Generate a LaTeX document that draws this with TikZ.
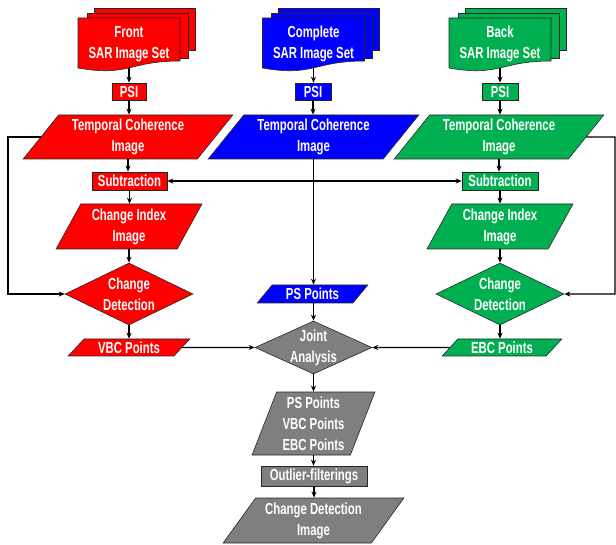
\documentclass[tikz,border=0pt]{standalone}
\usepackage{fontspec}
\setmainfont{Liberation Sans}[FakeStretch=0.71]
\usetikzlibrary{shapes.geometric,arrows.meta}
\definecolor{cred}{HTML}{FF0000}
\definecolor{cblue}{HTML}{0000FF}
\definecolor{cgreen}{HTML}{00B050}
\definecolor{cgray}{HTML}{7F7F7F}
\definecolor{outl}{HTML}{262626}
\newcommand{\docstack}[4]{%
  \begin{scope}[shift={(#1,0)}]
    \filldraw[sheet,fill=#2] (-35,8) rectangle (66,50);
    \filldraw[sheet,fill=#2] (-42,13) rectangle (59,58);
    \filldraw[sheet,fill=#2] (-51,18) -- (51,18) -- (51,61) .. controls (0,61) and (0,77) .. (-51,68) -- cycle;
  \end{scope}
  \node[txt, minimum width=102pt, minimum height=48pt] (#3) at (#1,44) {#4};
}
\begin{document}
\begin{tikzpicture}[x=1pt,y=-1pt,
  txt/.style={text=white, font=\fontsize{16}{21}\selectfont\bfseries, align=center, inner sep=0pt},
  sheet/.style={draw=outl, line width=0.6pt},
  box/.style={txt, sheet, rectangle},
  para/.style={txt, sheet, trapezium, trapezium stretches=true},
  dia/.style={sheet, diamond, inner sep=0pt},
  arr/.style={line width=1.2pt, -{Stealth[length=6pt,width=5pt]}}]
\useasboundingbox (0,0) rectangle (616,545);

% document stacks
\docstack{129}{cred}{fdoc}{Front\\SAR Image Set}
\docstack{313.5}{cblue}{cdoc}{Complete\\SAR Image Set}
\docstack{500}{cgreen}{bdoc}{Back\\SAR Image Set}

% PSI boxes
\node[box, fill=cred, minimum width=34pt, minimum height=17pt] (psir) at (129,91.5) {PSI};
\node[box, fill=cblue, minimum width=36pt, minimum height=17pt] (psib) at (313,91.5) {PSI};
\node[box, fill=cgreen, minimum width=36pt, minimum height=17pt] (psig) at (500,91.5) {PSI};

% temporal coherence images
\node[para, fill=cred, trapezium left angle=51.5, trapezium right angle=128.5, minimum width=210pt, minimum height=44pt] (tcr) at (128,137) {Temporal Coherence\\Image};
\node[para, fill=cblue, trapezium left angle=51.5, trapezium right angle=128.5, minimum width=211pt, minimum height=44pt] (tcb) at (313.5,137) {Temporal Coherence\\Image};
\node[para, fill=cgreen, trapezium left angle=51.5, trapezium right angle=128.5, minimum width=210pt, minimum height=44pt] (tcg) at (499,137) {Temporal Coherence\\Image};

% subtraction
\node[box, fill=cred, minimum width=75pt, minimum height=18pt] (subr) at (129.5,181) {Subtraction};
\node[box, fill=cgreen, minimum width=76pt, minimum height=18pt] (subg) at (500,181) {Subtraction};

% change index images
\node[para, fill=cred, trapezium left angle=62, trapezium right angle=118, minimum width=146pt, minimum height=45pt] (cir) at (129,226.5) {Change Index\\Image};
\node[para, fill=cgreen, trapezium left angle=62, trapezium right angle=118, minimum width=146pt, minimum height=45pt] (cig) at (500,226.5) {Change Index\\Image};

% change detection diamonds
\node[dia, fill=cred, minimum width=128pt, minimum height=62pt, label={[txt]center:Change\\Detection}] (cdr) at (129,294) {};
\node[dia, fill=cgreen, minimum width=128pt, minimum height=62pt, label={[txt]center:Change\\Detection}] (cdg) at (500,294) {};

% points
\node[para, fill=cred, trapezium left angle=47, trapezium right angle=133, minimum width=122pt, minimum height=17pt] (vbc) at (129,347.5) {VBC Points};
\node[para, fill=cgreen, trapezium left angle=47, trapezium right angle=133, minimum width=120pt, minimum height=17pt] (ebc) at (502,347.5) {EBC Points};
\node[para, fill=cblue, trapezium left angle=50, trapezium right angle=130, minimum width=111pt, minimum height=18pt] (psp) at (312.5,294) {PS Points};

% joint analysis
\node[dia, fill=cgray, minimum width=117pt, minimum height=53pt, label={[txt]center:Joint\\Analysis}] (joint) at (313.5,347.5) {};

\node[para, fill=cgray, trapezium left angle=69, trapezium right angle=111, minimum width=123pt, minimum height=63pt] (psve) at (313.5,423.5) {PS Points\\VBC Points\\EBC Points};
\node[box, fill=cgray, minimum width=106pt, minimum height=20pt] (out) at (314,476) {Outlier-filterings};
\node[para, fill=cgray, trapezium left angle=53, trapezium right angle=127, minimum width=181pt, minimum height=45pt] (cdi) at (313.5,520.5) {Change Detection\\Image};

% connectors
\foreach \d/\p/\t in {fdoc/psir/tcr, cdoc/psib/tcb, bdoc/psig/tcg}{
  \draw[arr] (\d.south) -- (\d.south |- \p.north);
  \draw[arr] (\p.south) -- (\p.south |- \t.north);
}
\draw[arr] (tcr.south) -- (tcr.south |- subr.north);
\draw[arr] (tcg.south) -- (tcg.south |- subg.north);
\draw[arr] (tcb.south) -- (tcb.south |- psp.north);
\draw[arr] (tcb.south |- subr.east) -- (subr.east);
\draw[arr] (tcb.south |- subg.west) -- (subg.west);
\draw[arr] (subr.south) -- (subr.south |- cir.north);
\draw[arr] (subg.south) -- (subg.south |- cig.north);
\draw[arr] (cir.south) -- (cir.south |- cdr.north);
\draw[arr] (cig.south) -- (cig.south |- cdg.north);
\draw[arr] (cdr.south) -- (cdr.south |- vbc.north);
\draw[arr] (cdg.south) -- (cdg.south |- ebc.north);
\draw[arr] (tcr.west) -- ++(-32.5,0) |- (cdr.west);
\draw[arr] (tcg.east) -- (615,137) |- (cdg.east);
\draw[arr] (vbc.east) -- (joint.west);
\draw[arr] (ebc.west) -- (joint.east);
\draw[arr] (psp.south) -- (psp.south -| joint.north) -- (joint.north);
\draw[arr] (joint.south) -- (joint.south |- psve.north);
\draw[arr] (psve.south) -- (psve.south |- out.north);
\draw[arr] (out.south) -- (out.south |- cdi.north);
\end{tikzpicture}
\end{document}
